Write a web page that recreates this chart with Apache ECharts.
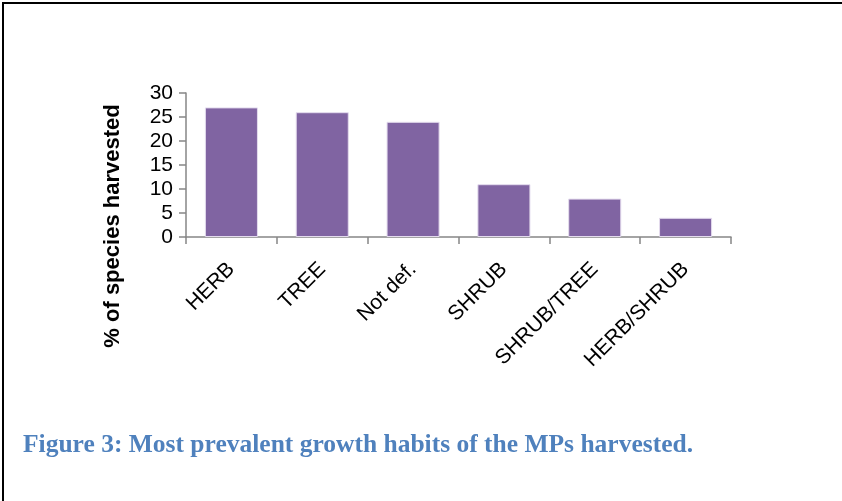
<!DOCTYPE html>
<html>
<head>
<meta charset="utf-8">
<script src="https://cdn.jsdelivr.net/npm/echarts@6/dist/echarts.min.js"></script>
<style>
html,body{margin:0;padding:0;background:#fff;}
#c{width:842px;height:501px;}
</style>
</head>
<body>
<div id="c"></div>
<script>
const categories = ['HERB', 'TREE', 'Not def.', 'SHRUB', 'SHRUB/TREE', 'HERB/SHRUB'];
const values = [27, 26, 24, 11, 8, 4];
const yTicks = { min: 0, max: 30, interval: 5 };
const yTitle = '% of species harvested';
const caption = 'Figure 3: Most prevalent growth habits of the MPs harvested.';

const chart = echarts.init(document.getElementById('c'), null, { renderer: 'canvas' });
chart.setOption({
  animation: false,
  backgroundColor: '#ffffff',
  grid: { left: 186, top: 93, right: 111, bottom: 264, containLabel: false },
  xAxis: {
    type: 'category',
    data: categories,
    axisLine: { lineStyle: { color: '#868686', width: 1.5 } },
    axisTick: { show: true, length: 7, lineStyle: { color: '#868686', width: 1.5 } },
    axisLabel: {
      rotate: 45, margin: 29, interval: 0,
      color: '#000', fontSize: 21, fontFamily: 'Liberation Sans'
    }
  },
  yAxis: {
    type: 'value',
    min: yTicks.min, max: yTicks.max, interval: yTicks.interval,
    splitLine: { show: false },
    axisLine: { show: true, lineStyle: { color: '#868686', width: 1.5 } },
    axisTick: { show: true, length: 7, lineStyle: { color: '#868686', width: 1.5 } },
    axisLabel: { color: '#000', fontSize: 21, margin: 13, fontFamily: 'Liberation Sans' }
  },
  series: [{
    type: 'bar',
    data: values,
    barCategoryGap: '41.6%',
    itemStyle: { color: '#8064A2', borderColor: '#E4DCEE', borderWidth: 1 }
  }],
  graphic: [
    { type: 'line', shape: { x1: 2, y1: 3, x2: 842, y2: 3 }, style: { stroke: '#000', lineWidth: 2 } },
    { type: 'line', shape: { x1: 3, y1: 2, x2: 3, y2: 501 }, style: { stroke: '#000', lineWidth: 2 } },
    {
      type: 'text', x: 113, y: 226, rotation: Math.PI / 2,
      style: { text: yTitle, fill: '#000', font: 'bold 22px "Liberation Sans"', align: 'center', verticalAlign: 'middle' }
    },
    {
      type: 'text', x: 23, y: 445,
      style: { text: caption, fill: '#4F81BD', font: 'bold 25.5px "Liberation Serif"', align: 'left', verticalAlign: 'middle' }
    }
  ]
});
</script>
</body>
</html>
